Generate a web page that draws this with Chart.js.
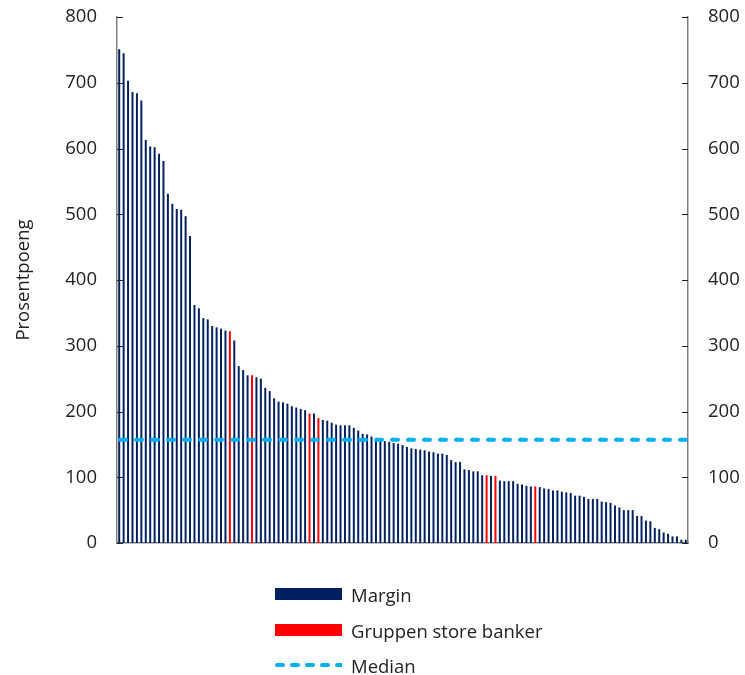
<!DOCTYPE html>
<html><head><meta charset="utf-8">
<script src="https://cdn.jsdelivr.net/npm/chart.js@4"></script>
<style>
html,body{margin:0;padding:0;background:#fff;}
#wrap{position:relative;width:745px;height:675px;}
canvas{position:absolute;left:0;top:0;}
.legend{position:absolute;left:275px;top:0;font-family:'Open Sans';font-size:18.5px;color:#222;}
.row{position:absolute;left:0;height:24px;display:flex;align-items:center;white-space:nowrap;}
.sw{width:67px;margin-right:9px;display:block;}
</style></head>
<body><div id="wrap"><canvas id="c" width="745" height="675"></canvas><div class="legend" id="lg"></div></div>
<script>
// Margin per bank (percentage points), sorted
const margin = [751,745,703,686,684,673,613,603,602,592,581,531,516,508,507,497,467,362,357,342,
340,330,328,326,323,322,308,269,263,255,255,252,250,236,231,220,215,214,212,208,
206,204,202,197,197,190,187,186,183,180,179,179,179,175,171,166,165,162,158,156,
155,154,152,151,149,146,144,143,142,141,139,138,136,136,134,126,123,123,112,111,
109,109,103,103,102,102,95,94,94,94,90,89,87,86,86,85,83,82,80,80,
78,77,76,72,72,70,67,67,67,63,62,61,57,54,50,50,50,41,41,34,
33,23,21,16,14,10,10,5,5];
// 1-based positions of banks in "Gruppen store banker"
const largeBanks = [26,31,44,46,84,86,95];
const medianValue = 157;
const yTicks = [0,100,200,300,400,500,600,700,800];
const seriesNames = ['Margin','Gruppen store banker','Median'];
const colors = {margin:'#002060', large:'#ff0000', median:'#00b0f0'};

const categories = margin.map((_, i) => String(i + 1));
const marginData = margin.map((v, i) => largeBanks.includes(i + 1) ? null : v);
const largeData = margin.map((v, i) => largeBanks.includes(i + 1) ? v : null);

const FONT = "'Open Sans'";

const tickPlugin = {
  id: 'inwardTicks',
  afterDraw(chart) {
    const ctx = chart.ctx;
    ctx.save();
    ctx.strokeStyle = '#222';
    ctx.lineWidth = 1;
    ['y', 'y2'].forEach(id => {
      const s = chart.scales[id];
      const x0 = id === 'y' ? s.right : s.left;
      const dir = id === 'y' ? 1 : -1;
      yTicks.forEach(v => {
        const y = Math.round(s.getPixelForValue(v)) + 0.5;
        ctx.beginPath();
        ctx.moveTo(x0, y);
        ctx.lineTo(x0 + dir * 6, y);
        ctx.stroke();
      });
    });
    ctx.restore();
  }
};

const medianPlugin = {
  id: 'medianLine',
  afterDatasetsDraw(chart) {
    const ctx = chart.ctx, a = chart.chartArea;
    const y = chart.scales.y.getPixelForValue(medianValue);
    ctx.save();
    ctx.strokeStyle = colors.median;
    ctx.lineWidth = 4;
    ctx.lineCap = 'round';
    ctx.setLineDash([6, 10]);
    ctx.beginPath();
    ctx.moveTo(a.left + 3, y);
    ctx.lineTo(a.right, y);
    ctx.stroke();
    ctx.restore();
  }
};

const yCommon = {
  min: 0, max: 800,
  afterBuildTicks(s) { s.ticks = yTicks.map(v => ({value: v})); },
  grid: {display: false, drawTicks: false},
  border: {display: true, color: '#808080', width: 1.5},
  ticks: {padding: 20, color: '#222', font: {family: FONT, size: 18.5}}
};

new Chart(document.getElementById('c'), {
  type: 'bar',
  data: {
    labels: categories,
    datasets: [
      {label: seriesNames[0], data: marginData, backgroundColor: colors.margin, grouped: false,
       barPercentage: 0.5, categoryPercentage: 0.9},
      {label: seriesNames[1], data: largeData, backgroundColor: colors.large, grouped: false,
       barPercentage: 0.5, categoryPercentage: 0.9}
    ]
  },
  options: {
    responsive: false, animation: false, devicePixelRatio: 1,
    layout: {padding: {top: 17, left: 0, right: 0, bottom: 0}},
    plugins: {legend: {display: false}, tooltip: {enabled: false}},
    scales: {
      x: {
        offset: true,
        afterFit(s) { s.height = 132; s.paddingLeft = 0; s.paddingRight = 0; },
        grid: {display: false, drawTicks: false},
        border: {display: true, color: '#808080', width: 1.5},
        ticks: {display: false}
      },
      y: Object.assign({}, yCommon, {
        position: 'left',
        afterFit(s) { s.width = 117; s.paddingTop = 0; s.paddingBottom = 0; },
        title: {display: true, text: 'Prosentpoeng', color: '#222',
                font: {family: FONT, size: 18.5}, padding: {top: 13, bottom: 0}}
      }),
      y2: Object.assign({}, yCommon, {
        position: 'right',
        afterFit(s) { s.width = 57; s.paddingTop = 0; s.paddingBottom = 0; }
      })
    }
  },
  plugins: [tickPlugin, medianPlugin]
});

// Legend
const lg = document.getElementById('lg');
const rowsY = [582, 618, 653];
const swatches = [
  `<svg class="sw" width="67" height="24"><rect x="0" y="6" width="67" height="12" fill="${colors.margin}"/></svg>`,
  `<svg class="sw" width="67" height="24"><rect x="0" y="6" width="67" height="12" fill="${colors.large}"/></svg>`,
  `<svg class="sw" width="67" height="24"><line x1="2" y1="12" x2="67" y2="12" stroke="${colors.median}" stroke-width="4" stroke-linecap="round" stroke-dasharray="6 9"/></svg>`
];
seriesNames.forEach((name, i) => {
  const r = document.createElement('div');
  r.className = 'row';
  r.style.top = rowsY[i] + 'px';
  r.innerHTML = swatches[i] + '<span>' + name + '</span>';
  lg.appendChild(r);
});
</script>
</body></html>
